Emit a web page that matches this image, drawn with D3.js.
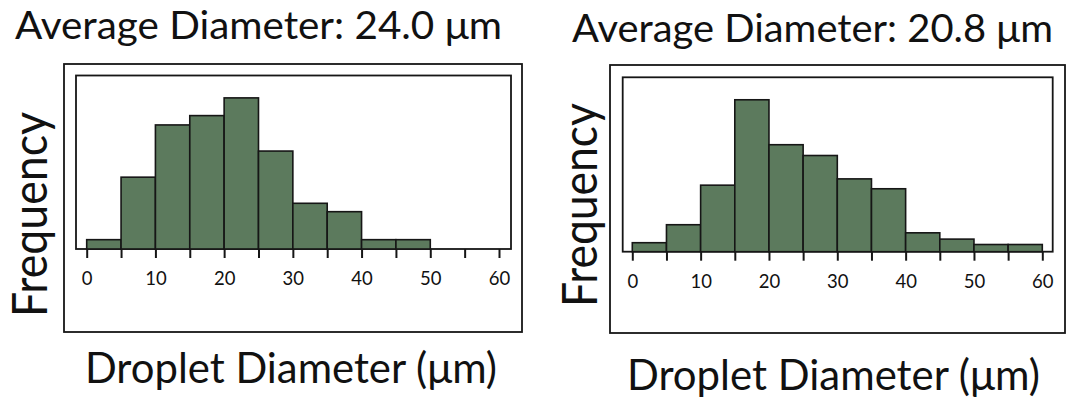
<!DOCTYPE html>
<html>
<head>
<meta charset="utf-8">
<script src="https://cdn.jsdelivr.net/npm/d3@7"></script>
<style>
  html, body { margin: 0; padding: 0; background: #ffffff; }
  svg { display: block; }
  text { font-family: Lato, "Open Sans", sans-serif; fill: #111; }
</style>
</head>
<body>
<svg id="chart" width="1076" height="398"></svg>
<script>
// Histogram bins (lower edges, μm) — bin width 5 μm
const binStarts = [0, 5, 10, 15, 20, 25, 30, 35, 40, 45, 50, 55];
const binWidth = 5;

// Relative frequency per bin
const freqA = [1.0, 7.7, 13.3, 14.3, 16.2, 10.5, 4.9, 4.0, 1.0, 1.0, 0, 0];
const freqB = [1.0, 3.0, 7.4, 16.9, 11.9, 10.7, 8.1, 7.0, 2.1, 1.4, 0.8, 0.8];

// Axis ticks
const tickValues = [0, 5, 10, 15, 20, 25, 30, 35, 40, 45, 50, 55, 60];
const labelledTicks = [0, 10, 20, 30, 40, 50, 60];

const titleA = "Average Diameter: 24.0 μm";
const titleB = "Average Diameter: 20.8 μm";
const xLabel = "Droplet Diameter (μm)";
const yLabel = "Frequency";

const svg = d3.select("#chart");
const barFill = "#5c7a5d";
const ink = "#161616";

function panel(cfg) {
  const g = svg.append("g");

  // outer box
  g.append("rect")
    .attr("x", cfg.outer[0]).attr("y", cfg.outer[1])
    .attr("width", cfg.outer[2] - cfg.outer[0])
    .attr("height", cfg.outer[3] - cfg.outer[1])
    .attr("fill", "none").attr("stroke", ink).attr("stroke-width", 1.8);

  const x = d3.scaleLinear().domain([0, 60]).range(cfg.xRange);
  const y = d3.scaleLinear().domain([0, cfg.yMax]).range([cfg.frame[3], cfg.frame[1]]);

  // plot frame
  g.append("rect")
    .attr("x", cfg.frame[0]).attr("y", cfg.frame[1])
    .attr("width", cfg.frame[2] - cfg.frame[0])
    .attr("height", cfg.frame[3] - cfg.frame[1])
    .attr("fill", "none").attr("stroke", ink).attr("stroke-width", 1.8);

  // bars
  const bins = binStarts.map((b, i) => ({ x0: b, x1: b + binWidth, v: cfg.values[i] }))
    .filter(d => d.v > 0);
  g.append("g").selectAll("rect")
    .data(bins)
    .join("rect")
    .attr("x", d => x(d.x0))
    .attr("width", d => x(d.x1) - x(d.x0))
    .attr("y", d => y(d.v))
    .attr("height", d => y(0) - y(d.v))
    .attr("fill", barFill)
    .attr("stroke", ink)
    .attr("stroke-width", 1.6);

  // x axis ticks and labels
  const axis = d3.axisBottom(x)
    .tickValues(tickValues)
    .tickSize(9)
    .tickPadding(14)
    .tickFormat(d => labelledTicks.includes(d) ? d : "");
  const ax = g.append("g")
    .attr("transform", `translate(0,${cfg.frame[3]})`)
    .call(axis);
  ax.select(".domain").remove();
  ax.selectAll(".tick line").attr("stroke", ink).attr("stroke-width", 2);
  ax.selectAll(".tick text")
    .attr("font-family", "Lato, 'Open Sans', sans-serif")
    .attr("font-size", 18.5)
    .attr("fill", "#111");

  // title
  g.append("text")
    .attr("x", cfg.title[0]).attr("y", cfg.title[1])
    .attr("font-size", 39)
    .attr("textLength", cfg.title[2])
    .attr("lengthAdjust", "spacingAndGlyphs")
    .text(cfg.titleText);

  // x label
  g.append("text")
    .attr("x", cfg.xLab[0]).attr("y", cfg.xLab[1])
    .attr("font-size", 42)
    .attr("textLength", cfg.xLab[2])
    .attr("lengthAdjust", "spacingAndGlyphs")
    .text(xLabel);

  // y label (rotated)
  g.append("text")
    .attr("transform", `translate(${cfg.yLab[0]},${cfg.yLab[1]}) rotate(-90)`)
    .attr("font-size", 48)
    .attr("textLength", cfg.yLab[2])
    .attr("lengthAdjust", "spacingAndGlyphs")
    .text(yLabel);
}

panel({
  values: freqA,
  yMax: 18.6,
  outer: [64, 64, 522, 332],
  frame: [76, 75.5, 511, 249],
  xRange: [86.7, 499],
  title: [15, 39, 487],
  titleText: titleA,
  xLab: [85, 383, 412],
  yLab: [47, 317, 205]
});

panel({
  values: freqB,
  yMax: 19.4,
  outer: [610, 65, 1065, 333],
  frame: [622.7, 77.3, 1052.7, 251.7],
  xRange: [632.3, 1042.3],
  title: [572, 42, 481],
  titleText: titleB,
  xLab: [627, 390, 413],
  yLab: [597, 307, 204]
});
</script>
</body>
</html>
